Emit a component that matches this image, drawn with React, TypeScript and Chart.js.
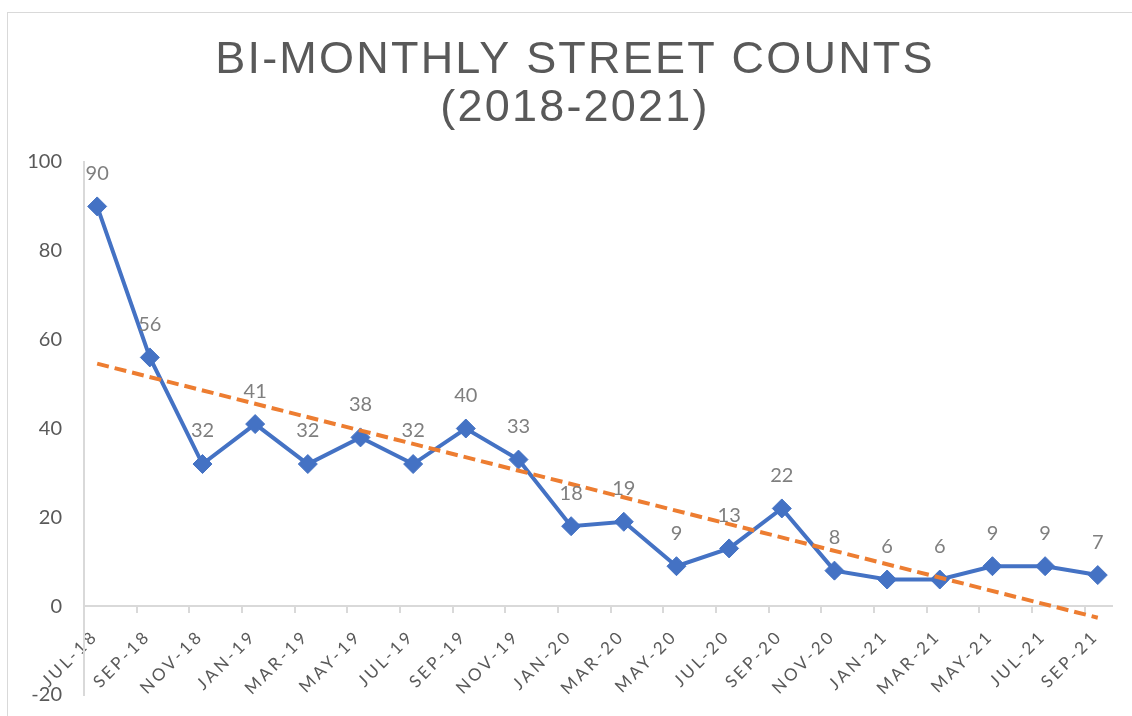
import React, { useEffect, useRef } from 'react';
import { Chart, registerables } from 'chart.js';

Chart.register(...registerables);

// ---- data ----
const categories = [
  'JUL-18', 'SEP-18', 'NOV-18', 'JAN-19', 'MAR-19', 'MAY-19', 'JUL-19', 'SEP-19', 'NOV-19', 'JAN-20',
  'MAR-20', 'MAY-20', 'JUL-20', 'SEP-20', 'NOV-20', 'JAN-21', 'MAR-21', 'MAY-21', 'JUL-21', 'SEP-21',
];
const counts = [90, 56, 32, 41, 32, 38, 32, 40, 33, 18, 19, 9, 13, 22, 8, 6, 6, 9, 9, 7];
// linear trendline end points (category index, value)
const trendIndex = [0, 19];
const trendValues = [54.6, -2.6];
const yMin = -20;
const yMax = 100;
const yStep = 20;
// category-axis range and the positions of its tick marks (between categories)
const xMin = -0.25;
const xMax = 19.27;
const xTickMarks = [-0.25, 0.75, 1.75, 2.75, 3.75, 4.75, 5.75, 6.75, 7.75, 8.75, 9.75, 10.75, 11.75, 12.75, 13.75, 14.75, 15.75, 16.75, 17.75, 18.75];
const titleLines = ['BI-MONTHLY STREET COUNTS', '(2018-2021)'];

const TEXT = '#595959';
const LABEL = '#7f7f7f';
const AXIS = '#d9d9d9';
const BLUE = '#4472C4';
const ORANGE = '#ED7D31';

function withSpacing(obj: any, key: string, spacing: string) {
  if (!obj || obj['__spaced_' + key]) return;
  const orig = obj[key];
  obj[key] = function (...args: any[]) {
    const ctx = this.ctx;
    const prev = ctx.letterSpacing;
    ctx.letterSpacing = spacing;
    try {
      return orig.apply(this, args);
    } finally {
      ctx.letterSpacing = prev;
    }
  };
  obj['__spaced_' + key] = true;
}

const spacingPlugin = {
  id: 'spacingPlugin',
  beforeDraw(chart: any) {
    withSpacing(chart.scales.x, 'drawLabels', '3px');
    withSpacing(chart.titleBlock, 'draw', '2.2px');
  },
};

const pointLabelsPlugin = {
  id: 'pointLabels',
  afterDatasetsDraw(chart: any) {
    const meta = chart.getDatasetMeta(0);
    const ctx = chart.ctx;
    ctx.save();
    ctx.font = '20px Lato, "Open Sans", sans-serif';
    ctx.fillStyle = LABEL;
    ctx.textAlign = 'center';
    ctx.textBaseline = 'middle';
    meta.data.forEach((pt: any, i: number) => {
      ctx.fillText(String(counts[i]), pt.x, pt.y - 33);
    });
    ctx.restore();
  },
};

export default function App() {
  const canvasRef = useRef<HTMLCanvasElement | null>(null);

  useEffect(() => {
    if (!canvasRef.current) return;
    const chart = new Chart(canvasRef.current, {
      type: 'line',
      data: {
        datasets: [
          {
            label: 'Street counts',
            xAxisID: 'x',
            yAxisID: 'y',
            data: counts.map((v, i) => ({ x: i, y: v })),
            borderColor: BLUE,
            backgroundColor: BLUE,
            borderWidth: 4,
            pointStyle: 'rectRot',
            pointRadius: 9.5,
            pointBorderWidth: 1,
            pointBackgroundColor: BLUE,
            pointBorderColor: BLUE,
            tension: 0,
            order: 1,
          },
          {
            label: 'Linear trend',
            xAxisID: 'x',
            yAxisID: 'y',
            data: trendIndex.map((x, i) => ({ x, y: trendValues[i] })),
            borderColor: ORANGE,
            borderWidth: 4,
            borderDash: [12, 6],
            pointRadius: 0,
            tension: 0,
            order: 0,
          },
        ],
      },
      options: {
        responsive: false,
        animation: false,
        layout: { padding: { left: 0, right: 0, top: 0, bottom: 9 } },
        plugins: {
          legend: { display: false },
          tooltip: { enabled: false },
          title: {
            display: true,
            text: titleLines,
            color: TEXT,
            font: { family: '"Liberation Sans", Arial, sans-serif', size: 45, weight: 'normal', lineHeight: '48px' },
            padding: { top: 37, bottom: 29 },
          },
        },
        scales: {
          x: {
            type: 'linear',
            axis: 'x',
            position: { y: 0 },
            min: xMin,
            max: xMax,
            bounds: 'data',
            afterBuildTicks: (scale: any) => {
              scale.ticks = categories.map((_, i) => ({ value: i }));
            },
            ticks: {
              stepSize: 1,
              autoSkip: false,
              minRotation: 45,
              maxRotation: 45,
              padding: 20,
              labelOffset: -2,
              color: TEXT,
              font: { family: 'Lato, "Open Sans", sans-serif', size: 17 },
              callback: (value: any) => categories[value] ?? '',
            },
            grid: { display: false, drawTicks: false },
            border: { display: true, color: AXIS, width: 2 },
          },
          xMarks: {
            type: 'linear',
            axis: 'x',
            display: true,
            position: { y: 0 },
            min: xMin,
            max: xMax,
            bounds: 'data',
            afterBuildTicks: (scale: any) => {
              scale.ticks = xTickMarks.map((v) => ({ value: v }));
            },
            ticks: {
              display: true,
              autoSkip: false,
              maxRotation: 0,
              minRotation: 0,
              color: 'rgba(0,0,0,0)',
              font: { size: 1 },
              callback: () => '',
            },
            grid: {
              display: true,
              drawOnChartArea: false,
              drawTicks: true,
              tickLength: 7,
              color: AXIS,
              tickColor: AXIS,
              lineWidth: 2,
              tickWidth: 2,
            },
            border: { display: false },
          },
          y: {
            min: yMin,
            max: yMax,
            afterFit: (scale: any) => {
              scale.width = 84;
            },
            ticks: {
              stepSize: yStep,
              padding: 22,
              color: TEXT,
              font: { family: 'Lato, "Open Sans", sans-serif', size: 20 },
            },
            grid: { display: true, drawOnChartArea: false, drawTicks: false },
            border: { display: true, color: AXIS, width: 2 },
          },
          // empty right-hand margin of the plot (keeps the title centred on the whole frame)
          yRight: {
            axis: 'y',
            position: 'right',
            display: true,
            min: yMin,
            max: yMax,
            afterFit: (scale: any) => {
              scale.width = 38;
            },
            ticks: { display: false },
            grid: { display: false },
            border: { display: false },
          },
        },
      } as any,
      plugins: [spacingPlugin, pointLabelsPlugin],
    });
    return () => chart.destroy();
  }, []);

  return (
    <div
      style={{
        position: 'absolute',
        left: 0,
        top: 0,
        width: 1132,
        height: 716,
        overflow: 'hidden',
        background: '#ffffff',
      }}
    >
      <div
        style={{
          position: 'absolute',
          left: 7,
          top: 12,
          width: 1200,
          height: 800,
          border: `1px solid ${AXIS}`,
        }}
      />
      <canvas
        ref={canvasRef}
        width={1150}
        height={729}
        style={{ position: 'absolute', left: 0, top: 0 }}
      />
    </div>
  );
}
